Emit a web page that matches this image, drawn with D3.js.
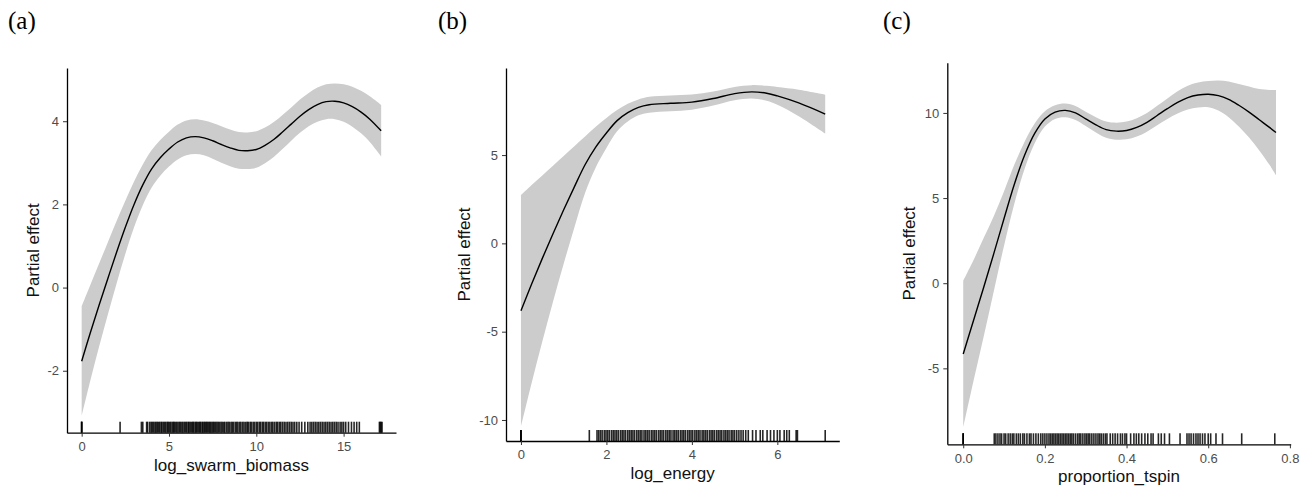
<!DOCTYPE html>
<html>
<head>
<meta charset="utf-8">
<script src="https://cdn.jsdelivr.net/npm/d3@7"></script>
<style>
  html, body { margin: 0; padding: 0; background: #fff; }
  svg { display: block; }
</style>
</head>
<body>
<svg id="chart" width="1309" height="488"></svg>
<script>
// ---------------- DATA ----------------
// Panel (a): log_swarm_biomass
const xA   = [0, 0.5, 1, 1.5, 2, 2.5, 3, 3.5, 4, 4.5, 5, 5.5, 6, 6.5, 7, 7.5, 8, 8.5, 9, 9.5, 10, 10.5, 11, 11.5, 12, 12.5, 13, 13.5, 14, 14.5, 15, 15.5, 16, 16.5, 17.15];
const fitA = [-1.77, -1.08, -0.42, 0.22, 0.85, 1.45, 2.0, 2.47, 2.85, 3.12, 3.33, 3.5, 3.6, 3.63, 3.6, 3.53, 3.44, 3.36, 3.3, 3.29, 3.32, 3.42, 3.56, 3.74, 3.93, 4.12, 4.28, 4.4, 4.47, 4.48, 4.44, 4.35, 4.22, 4.05, 3.77];
const seA  = [1.32, 1.15, 1.0, 0.87, 0.75, 0.64, 0.55, 0.49, 0.45, 0.43, 0.42, 0.42, 0.42, 0.42, 0.42, 0.43, 0.44, 0.44, 0.44, 0.44, 0.44, 0.43, 0.42, 0.41, 0.4, 0.4, 0.4, 0.41, 0.42, 0.43, 0.45, 0.48, 0.51, 0.55, 0.62];
const rugA = [0, 0, 0, 2.2, 3.42, 3.5, 3.72, 3.78, 3.9, 3.98, 4.05, 4.12, 4.2, 4.26, 4.33, 4.4, 4.47, 4.55, 4.6, 4.68, 4.75, 4.82, 4.9, 4.96, 5.03, 5.1, 5.18, 5.25, 5.3, 5.38, 5.45, 5.52, 5.6, 5.66, 5.74, 5.8, 5.88, 5.95, 6.02, 6.1, 6.15, 6.22, 6.3, 6.36, 6.42, 6.5, 6.56, 6.62, 6.7, 6.76, 6.82, 6.9, 6.95, 7.02, 7.08, 7.15, 7.2, 7.28, 7.34, 7.4, 7.47, 7.54, 7.6, 7.68, 7.75, 7.82, 7.9, 7.98, 8.05, 8.14, 8.2, 8.3, 8.38, 8.45, 8.55, 8.62, 8.7, 8.8, 8.88, 8.95, 9.05, 9.12, 9.22, 9.3, 9.4, 9.48, 9.55, 9.65, 9.72, 9.82, 9.9, 10.0, 10.08, 10.18, 10.25, 10.35, 10.42, 10.52, 10.6, 10.7, 10.78, 10.88, 10.95, 11.05, 11.15, 11.22, 11.32, 11.4, 11.5, 11.6, 11.7, 11.8, 11.9, 12.0, 12.1, 12.2, 12.32, 12.45, 12.6, 12.78, 12.95, 13.08, 13.18, 13.28, 13.38, 13.48, 13.58, 13.68, 13.78, 13.88, 13.98, 14.08, 14.18, 14.28, 14.38, 14.48, 14.58, 14.68, 14.8, 14.9, 15.0, 15.12, 15.28, 15.45, 15.6, 15.75, 15.9, 17.05, 17.1, 17.15, 17.2];
const ticksXA = [0, 5, 10, 15];
const ticksYA = [-2, 0, 2, 4];

// Panel (b): log_energy
const xB   = [0, 0.25, 0.5, 0.75, 1, 1.25, 1.5, 1.75, 2, 2.25, 2.5, 2.75, 3, 3.5, 4, 4.5, 5, 5.4, 5.75, 6, 6.5, 7.12];
const fitB = [-3.82, -2.3, -0.85, 0.55, 1.9, 3.2, 4.45, 5.45, 6.25, 6.95, 7.4, 7.7, 7.85, 7.93, 8.0, 8.2, 8.48, 8.58, 8.5, 8.35, 7.95, 7.32];
const seB  = [6.55, 5.6, 4.7, 3.85, 3.05, 2.3, 1.6, 1.15, 0.85, 0.6, 0.5, 0.45, 0.45, 0.45, 0.43, 0.4, 0.38, 0.38, 0.42, 0.5, 0.75, 1.1];
const rugB = [0, 0, 0, 1.6, 1.78, 1.82, 1.86, 1.9, 1.95, 1.99, 2.03, 2.07, 2.12, 2.16, 2.2, 2.24, 2.28, 2.33, 2.37, 2.41, 2.45, 2.5, 2.54, 2.58, 2.62, 2.66, 2.71, 2.75, 2.79, 2.83, 2.88, 2.92, 2.96, 3.0, 3.05, 3.09, 3.13, 3.17, 3.22, 3.26, 3.3, 3.34, 3.39, 3.43, 3.47, 3.51, 3.56, 3.6, 3.64, 3.68, 3.73, 3.77, 3.81, 3.85, 3.9, 3.94, 3.98, 4.02, 4.07, 4.11, 4.15, 4.19, 4.24, 4.28, 4.32, 4.36, 4.41, 4.45, 4.49, 4.53, 4.58, 4.62, 4.66, 4.7, 4.75, 4.79, 4.83, 4.87, 4.92, 4.96, 5.0, 5.05, 5.1, 5.15, 5.2, 5.26, 5.32, 5.42, 5.5, 5.6, 5.66, 5.76, 5.84, 5.92, 6.0, 6.06, 6.16, 6.22, 6.28, 6.44, 6.47, 7.12];
const ticksXB = [0, 2, 4, 6];
const ticksYB = [-10, -5, 0, 5];

// Panel (c): proportion_tspin
const xC   = [0, 0.025, 0.05, 0.075, 0.1, 0.125, 0.15, 0.175, 0.2, 0.225, 0.25, 0.275, 0.3, 0.325, 0.35, 0.375, 0.4, 0.425, 0.45, 0.475, 0.5, 0.525, 0.55, 0.575, 0.6, 0.625, 0.65, 0.675, 0.7, 0.725, 0.75, 0.766];
const fitC = [-4.16, -2.2, -0.25, 1.75, 3.8, 5.8, 7.5, 8.8, 9.65, 10.05, 10.15, 10.0, 9.65, 9.3, 9.02, 8.93, 8.97, 9.15, 9.45, 9.85, 10.25, 10.62, 10.9, 11.05, 11.1, 11.02, 10.8, 10.45, 10.05, 9.6, 9.15, 8.85];
const seC  = [4.3, 3.55, 2.9, 2.2, 1.6, 1.15, 0.8, 0.58, 0.45, 0.4, 0.4, 0.41, 0.42, 0.45, 0.48, 0.5, 0.52, 0.54, 0.55, 0.57, 0.6, 0.65, 0.7, 0.73, 0.77, 0.88, 1.05, 1.25, 1.5, 1.8, 2.2, 2.5];
const rugC = [0, 0, 0, 0.076, 0.08, 0.085, 0.09, 0.094, 0.1, 0.104, 0.11, 0.115, 0.12, 0.124, 0.13, 0.135, 0.14, 0.146, 0.15, 0.156, 0.162, 0.166, 0.172, 0.178, 0.184, 0.19, 0.195, 0.2, 0.205, 0.21, 0.214, 0.218, 0.222, 0.226, 0.23, 0.234, 0.238, 0.242, 0.246, 0.25, 0.254, 0.258, 0.262, 0.266, 0.27, 0.275, 0.28, 0.284, 0.288, 0.293, 0.298, 0.302, 0.306, 0.31, 0.315, 0.32, 0.325, 0.33, 0.334, 0.338, 0.343, 0.348, 0.352, 0.36, 0.366, 0.372, 0.378, 0.385, 0.39, 0.396, 0.4, 0.41, 0.418, 0.424, 0.43, 0.437, 0.445, 0.452, 0.46, 0.465, 0.478, 0.485, 0.493, 0.505, 0.531, 0.548, 0.553, 0.558, 0.564, 0.57, 0.575, 0.58, 0.586, 0.592, 0.6, 0.606, 0.619, 0.635, 0.682, 0.763];
const ticksXC = [0, 0.2, 0.4, 0.6, 0.8];
const ticksYC = [-5, 0, 5, 10];

const panelLetters = ["(a)", "(b)", "(c)"];
const xTitles = ["log_swarm_biomass", "log_energy", "proportion_tspin"];
const yTitle = "Partial effect";

// ---------------- LAYOUT ----------------
const intFmt = d => String(d);
const panels = [
  { letter: panelLetters[0], xt: xTitles[0], x: xA, fit: fitA, se: seA, rug: rugA, tx: ticksXA, ty: ticksYA,
    fmtX: intFmt, xDom: [-0.84, 18.0], yDom: [-3.49, 5.28],
    left: 67, right: 396, top: 68, bottom: 432.7, letterX: 8, yTitleX: 39 },
  { letter: panelLetters[1], xt: xTitles[1], x: xB, fit: fitB, se: seB, rug: rugB, tx: ticksXB, ty: ticksYB,
    fmtX: intFmt, xDom: [-0.35, 7.45], yDom: [-11.19, 9.93],
    left: 506, right: 839.3, top: 68, bottom: 441, letterX: 438, yTitleX: 470 },
  { letter: panelLetters[2], xt: xTitles[2], x: xC, fit: fitC, se: seC, rug: rugC, tx: ticksXC, ty: ticksYC,
    fmtX: d => d.toFixed(1), xDom: [-0.039, 0.802], yDom: [-9.46, 12.95],
    left: 947.3, right: 1290.7, top: 62.7, bottom: 444.3, letterX: 883, yTitleX: 915 }
];

const svg = d3.select("#chart");
const sans = "'Liberation Sans', Arial, sans-serif";

panels.forEach(p => {
  const xs = d3.scaleLinear().domain(p.xDom).range([p.left, p.right]);
  const ys = d3.scaleLinear().domain(p.yDom).range([p.bottom, p.top]);
  const g = svg.append("g");

  const pts = p.x.map((v, i) => ({ x: v, y: p.fit[i], lo: p.fit[i] - p.se[i], hi: p.fit[i] + p.se[i] }));
  const curve = d3.curveCatmullRom.alpha(0.5);

  g.append("path").datum(pts)
    .attr("fill", "#cccccc")
    .attr("d", d3.area().curve(curve).x(d => xs(d.x)).y0(d => ys(d.lo)).y1(d => ys(d.hi)));

  g.append("path").datum(pts)
    .attr("fill", "none").attr("stroke", "#000").attr("stroke-width", 1.4)
    .attr("d", d3.line().curve(curve).x(d => xs(d.x)).y(d => ys(d.y)));

  // rug
  g.append("g").selectAll("line").data(p.rug).join("line")
    .attr("x1", d => xs(d)).attr("x2", d => xs(d))
    .attr("y1", p.bottom).attr("y2", p.bottom - 11)
    .attr("stroke", "#000").attr("stroke-width", 1.6).attr("stroke-opacity", 0.85);

  // axes
  const ax = g.append("g").attr("transform", `translate(0,${p.bottom})`)
    .call(d3.axisBottom(xs).tickValues(p.tx).tickFormat(p.fmtX).tickSize(4).tickSizeOuter(0).tickPadding(5));
  const ay = g.append("g").attr("transform", `translate(${p.left},0)`)
    .call(d3.axisLeft(ys).tickValues(p.ty).tickFormat(intFmt).tickSize(4).tickSizeOuter(0).tickPadding(4));
  [ax, ay].forEach(a => {
    a.select(".domain").attr("stroke", "#000").attr("stroke-width", 1.3);
    a.selectAll(".tick line").attr("stroke", "#333").attr("stroke-width", 1);
    a.selectAll(".tick text").attr("fill", "#4d4d4d").style("font-family", sans).style("font-size", "13px");
  });

  // titles
  g.append("text").attr("x", (p.left + p.right) / 2).attr("y", p.bottom + 38)
    .attr("text-anchor", "middle").style("font-family", sans).style("font-size", "17px").attr("fill", "#111")
    .text(p.xt);
  g.append("text")
    .attr("transform", `translate(${p.yTitleX},${(p.top + p.bottom) / 2}) rotate(-90)`)
    .attr("text-anchor", "middle").style("font-family", sans).style("font-size", "17px").attr("fill", "#111")
    .text(yTitle);
  g.append("text").attr("x", p.letterX).attr("y", 28.5)
    .style("font-family", "'Liberation Serif', 'Times New Roman', serif").style("font-size", "25px").attr("fill", "#000")
    .text(p.letter);
});
</script>
</body>
</html>
